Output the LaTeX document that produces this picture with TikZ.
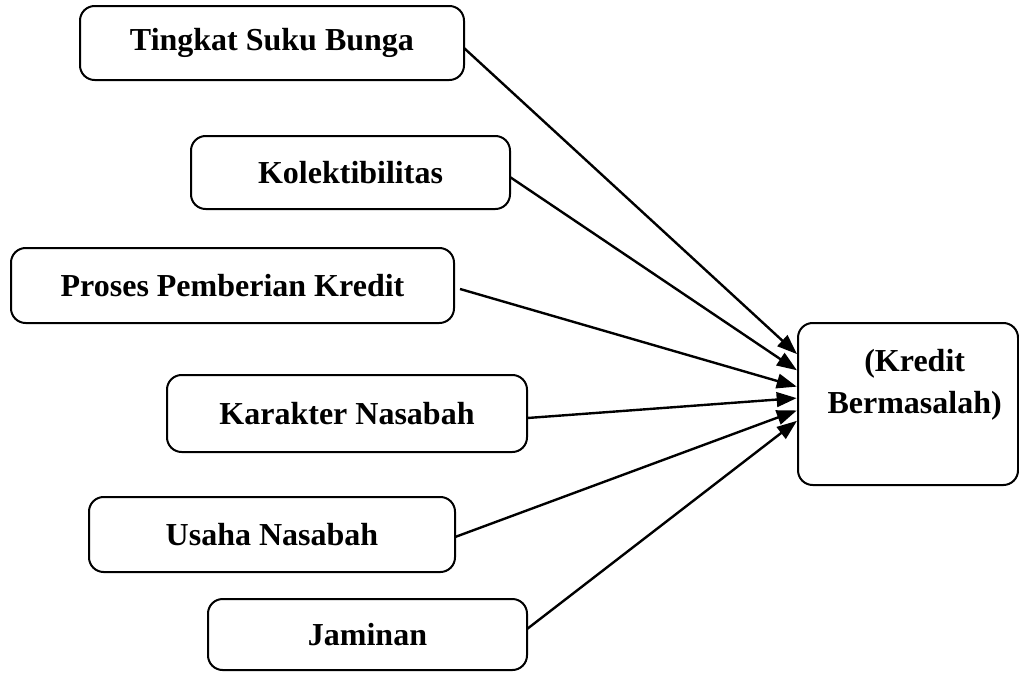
\documentclass[tikz,border=0pt]{standalone}
\usepackage{fontspec}
\setmainfont{Liberation Serif}
\usetikzlibrary{arrows.meta}
\tikzset{
  box/.style={draw, line width=1.5pt, rounded corners=11pt, inner sep=0pt, outer sep=0pt,
    font=\fontsize{24}{32}\selectfont\bfseries, align=center},
  conn/.style={line width=1.8pt, -{Triangle[length=15pt,width=11pt]}, shorten >=1pt}
}
\begin{document}
\begin{tikzpicture}[x=0.75pt,y=-0.75pt]
\useasboundingbox (0,0) rectangle (1019,675);
\node[box, minimum width=288pt, minimum height=55.5pt] (n1) at (272,43) {Tingkat Suku Bunga};
\node[box, minimum width=239.25pt, minimum height=54.75pt] (n2) at (350.5,172.5) {Kolektibilitas};
\node[box, minimum width=332.25pt, minimum height=56.25pt] (n3) at (232.5,285.5) {Proses Pemberian Kredit};
\node[box, minimum width=270pt, minimum height=57.75pt] (n4) at (347,413.5) {Karakter Nasabah};
\node[box, minimum width=274.5pt, minimum height=56.25pt] (n5) at (272,534.5) {Usaha Nasabah};
\node[box, minimum width=239.25pt, minimum height=53.25pt] (n6) at (367.5,634.5) {Jaminan};
\node[box, minimum width=165pt, minimum height=121.5pt] (kb) at (908,404) {\hspace*{10pt}(Kredit\\\hspace*{10pt}Bermasalah)\\[-7.5pt]\strut};
\draw[conn] ([yshift=-3.75pt]n1.east) -- ([yshift=36.75pt]kb.west);
\draw[conn] ([yshift=-3.4pt]n2.east) -- ([yshift=24.75pt]kb.west);
\draw[conn] ([xshift=4.5pt,yshift=-2.6pt]n3.east) -- ([yshift=12.75pt]kb.west);
\draw[conn] ([yshift=-3.4pt]n4.east) -- ([yshift=4.5pt]kb.west);
\draw[conn] ([yshift=-1.9pt]n5.east) -- ([yshift=-4.5pt]kb.west);
\draw[conn] ([yshift=4.1pt]n6.east) -- ([yshift=-12pt]kb.west);
\end{tikzpicture}
\end{document}
